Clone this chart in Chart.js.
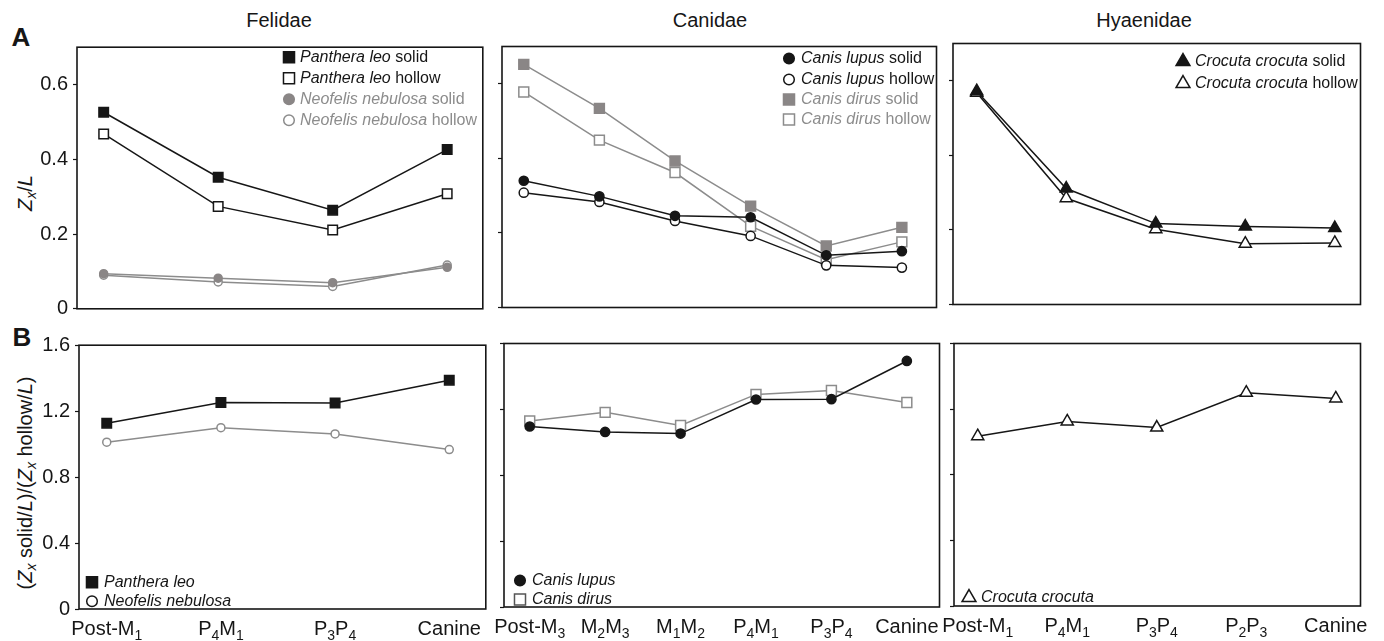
<!DOCTYPE html>
<html>
<head>
<meta charset="utf-8">
<script src="https://cdn.jsdelivr.net/npm/chart.js@4.4.0/dist/chart.umd.min.js"></script>
<style>
  body { margin: 0; background: #fff; }
  #fig { position: relative; width: 1384px; height: 641px; overflow: hidden;
         font-family: "Liberation Sans", Arial, Helvetica, sans-serif; color: #161616; }
  #fig canvas { position: absolute; }
  .lbl { position: absolute; white-space: nowrap; font-size: 20px; line-height: 1;
         transform: translate(-50%, -50%); }
  .letter { font-weight: bold; font-size: 26px; }
  .ytitle { transform: translate(-50%, -50%) rotate(-90deg); }
  sub { font-size: 0.7em; vertical-align: -0.3em; line-height: 0; }
</style>
</head>
<body>
<div id="fig">
  <div class="lbl letter" style="left:21px; top:37px;">A</div>
  <div class="lbl letter" style="left:22px; top:337px;">B</div>
  <div class="lbl" style="left:279px; top:20px;">Felidae</div>
  <div class="lbl" style="left:710px; top:20px;">Canidae</div>
  <div class="lbl" style="left:1144px; top:20px;">Hyaenidae</div>
  <div class="lbl ytitle" style="left:25px; top:193px;"><i>Z</i><sub><i>x</i></sub>/<i>L</i></div>
  <div class="lbl ytitle" style="left:25px; top:483px;">(<i>Z</i><sub><i>x</i></sub> solid/<i>L</i>)/(<i>Z</i><sub><i>x</i></sub> hollow/<i>L</i>)</div>
</div>
<script>
// tooth position categories (underscore = subscript digit)
const felidLabels = ['Post-M_1', 'P_4M_1', 'P_3P_4', 'Canine'];
const canidLabels = ['Post-M_3', 'M_2M_3', 'M_1M_2', 'P_4M_1', 'P_3P_4', 'Canine'];
const hyaenidLabels = ['Post-M_1', 'P_4M_1', 'P_3P_4', 'P_2P_3', 'Canine'];

const zTicks = [0, 0.2, 0.4, 0.6];
const ratioTicks = [0, 0.4, 0.8, 1.2, 1.6];

// A: Zx/L
const pantheraSolid = [0.526, 0.352, 0.264, 0.426];
const pantheraHollow = [0.468, 0.274, 0.211, 0.308];
const neofelisSolid = [0.094, 0.082, 0.070, 0.111];
const neofelisHollow = [0.090, 0.072, 0.060, 0.117];
const lupusSolid = [0.340, 0.298, 0.246, 0.242, 0.140, 0.151];
const lupusHollow = [0.308, 0.283, 0.232, 0.192, 0.113, 0.107];
const dirusSolid = [0.652, 0.534, 0.393, 0.272, 0.165, 0.215];
const dirusHollow = [0.578, 0.449, 0.362, 0.218, 0.128, 0.176];
const crocutaSolid = [0.572, 0.311, 0.217, 0.209, 0.205];
const crocutaHollow = [0.568, 0.285, 0.202, 0.163, 0.165];

// B: solid / hollow ratio
const pantheraRatio = [1.127, 1.253, 1.249, 1.388];
const neofelisRatio = [1.012, 1.100, 1.062, 0.967];
const lupusRatio = [1.096, 1.063, 1.053, 1.260, 1.262, 1.494];
const dirusRatio = [1.130, 1.182, 1.102, 1.291, 1.315, 1.242];
const crocutaRatio = [1.035, 1.125, 1.088, 1.300, 1.265];

const FONT = '"Liberation Sans", Arial, Helvetica, sans-serif';
const INK = '#161616';
const GREY = '#8c8c8c';
const GREY_FILL = '#8a8686';
const PAD_L = 62, PAD_T = 4, PAD_R = 4;

// marker looks
const blackSquare = { borderColor: INK, pointStyle: 'rect', pointRadius: 6.7, pointBackgroundColor: INK, pointBorderColor: INK, legendRadius: 7.8, textColor: INK };
const whiteSquare = { borderColor: INK, pointStyle: 'rect', pointRadius: 6.7, pointBackgroundColor: '#fff', pointBorderColor: INK, legendRadius: 7.8, textColor: INK };
const greySquare = { borderColor: GREY, pointStyle: 'rect', pointRadius: 7, pointBackgroundColor: GREY_FILL, pointBorderColor: GREY_FILL, legendRadius: 7.8, textColor: GREY };
const greyOpenSquare = { borderColor: GREY, pointStyle: 'rect', pointRadius: 7, pointBackgroundColor: '#fff', pointBorderColor: GREY, legendRadius: 7.8, textColor: GREY };
const blackDot = { borderColor: INK, pointStyle: 'circle', pointRadius: 4.6, pointBackgroundColor: INK, pointBorderColor: INK, legendRadius: 5.3, textColor: INK };
const whiteDot = { borderColor: INK, pointStyle: 'circle', pointRadius: 4.6, pointBackgroundColor: '#fff', pointBorderColor: INK, legendRadius: 5.3, textColor: INK };
const greyDot = { borderColor: GREY, pointStyle: 'circle', pointRadius: 4, pointBackgroundColor: GREY_FILL, pointBorderColor: GREY_FILL, legendRadius: 5.3, textColor: GREY };
const greyOpenDot = { borderColor: GREY, pointStyle: 'circle', pointRadius: 4, pointBackgroundColor: '#fff', pointBorderColor: GREY, legendRadius: 5.3, textColor: GREY };
const blackTri = { borderColor: INK, pointStyle: 'triangle', pointRadius: 7, pointBackgroundColor: INK, pointBorderColor: INK, legendRadius: 8, textColor: INK };
const whiteTri = { borderColor: INK, pointStyle: 'triangle', pointRadius: 7, pointBackgroundColor: '#fff', pointBorderColor: INK, legendRadius: 8, textColor: INK };

function series(values, species, suffix, look, extra) {
  return Object.assign({
    data: values.map((v, i) => ({ x: i, y: v })),
    species: species, suffix: suffix,
    borderWidth: 1.5, pointBorderWidth: 1.5, tension: 0, clip: false
  }, look, extra || {});
}

const framePlugin = {
  id: 'frame',
  afterDraw(chart) {
    const a = chart.chartArea, ctx = chart.ctx;
    ctx.save();
    ctx.strokeStyle = INK;
    ctx.lineWidth = 1.6;
    ctx.strokeRect(a.left, a.top, a.right - a.left, a.bottom - a.top);
    ctx.restore();
  }
};

function legendPlugin(spec) {
  return {
    id: 'richLegend',
    afterDraw(chart) {
      const { ctx, chartArea } = chart;
      ctx.save();
      chart.data.datasets.forEach((ds, i) => {
        const x = chartArea.left + spec.x;
        const y = chartArea.top + spec.rows[i];
        ctx.fillStyle = ds.legendFill || ds.pointBackgroundColor;
        ctx.strokeStyle = ds.legendStroke || ds.pointBorderColor;
        ctx.lineWidth = 1.5;
        Chart.helpers.drawPoint(ctx, { pointStyle: ds.pointStyle, radius: ds.legendRadius, rotation: 0, borderWidth: 1.5 }, x, y);
        ctx.fillStyle = ds.legendText || ds.textColor;
        ctx.textBaseline = 'middle';
        ctx.font = 'italic 16px ' + FONT;
        let tx = x + spec.dx;
        ctx.fillText(ds.species, tx, y);
        tx += ctx.measureText(ds.species).width;
        if (ds.suffix) {
          ctx.font = '16px ' + FONT;
          ctx.fillText(' ' + ds.suffix, tx, y);
        }
      });
      ctx.restore();
    }
  };
}

function tickLabelPlugin(cats) {
  return {
    id: 'subTicks',
    afterDraw(chart) {
      const { ctx, chartArea, scales } = chart;
      ctx.save();
      ctx.fillStyle = INK;
      ctx.textBaseline = 'alphabetic';
      cats.forEach((lab, i) => {
        const parts = lab.split(/_(\d)/);
        let w = 0;
        parts.forEach((p, k) => { ctx.font = (k % 2 ? '14px ' : '20px ') + FONT; w += ctx.measureText(p).width; });
        let x = scales.x.getPixelForValue(i) - w / 2;
        const y = chartArea.bottom + 26;
        parts.forEach((p, k) => {
          ctx.font = (k % 2 ? '14px ' : '20px ') + FONT;
          ctx.fillText(p, x, k % 2 ? y + 5 : y);
          x += ctx.measureText(p).width;
        });
      });
      ctx.restore();
    }
  };
}

function makePanel(p) {
  const [L, T, R, B] = p.box;
  const padB = p.bottomRow ? 641 - B : 6;
  const canvas = document.createElement('canvas');
  canvas.width = (R - L) + PAD_L + PAD_R;
  canvas.height = (B - T) + PAD_T + padB;
  canvas.style.left = (L - PAD_L) + 'px';
  canvas.style.top = (T - PAD_T) + 'px';
  document.getElementById('fig').appendChild(canvas);

  const plugins = [framePlugin, legendPlugin(p.legend)];
  if (p.bottomRow) plugins.push(tickLabelPlugin(p.cats));

  new Chart(canvas, {
    type: 'line',
    data: { datasets: p.datasets },
    plugins: plugins,
    options: {
      responsive: false,
      animation: false,
      layout: { padding: { top: PAD_T, right: PAD_R, left: 0, bottom: 0 } },
      plugins: { legend: { display: false }, tooltip: { enabled: false } },
      scales: {
        x: {
          type: 'linear', min: p.xr[0], max: p.xr[1],
          grid: { display: false }, border: { display: false },
          ticks: { display: false },
          afterFit: (s) => { s.height = padB; s.paddingLeft = 0; s.paddingRight = 0; }
        },
        y: {
          min: 0, max: p.yMax,
          afterBuildTicks: (s) => { s.ticks = p.yTicks.map(v => ({ value: v })); },
          afterFit: (s) => { s.width = PAD_L; s.paddingTop = 0; s.paddingBottom = 0; },
          grid: { drawOnChartArea: false, drawTicks: true, tickLength: 4, tickColor: INK, tickWidth: 1.2 },
          border: { display: false },
          ticks: {
            padding: 5, color: INK, font: { size: 20, family: FONT },
            callback: (v) => p.yLabels ? String(v) : ''
          }
        }
      }
    }
  });
}

makePanel({
  box: [77, 43, 487, 311], xr: [-0.233, 3.311], yMax: 0.7, yTicks: zTicks, yLabels: true,
  legend: { x: 212, dx: 11, rows: [10, 31, 52, 73] },
  datasets: [
    series(pantheraSolid, 'Panthera leo', 'solid', blackSquare),
    series(pantheraHollow, 'Panthera leo', 'hollow', whiteSquare),
    series(neofelisSolid, 'Neofelis nebulosa', 'solid', greyDot),
    series(neofelisHollow, 'Neofelis nebulosa', 'hollow', greyOpenDot)
  ]
});
makePanel({
  box: [502, 42, 941, 310], xr: [-0.288, 5.458], yMax: 0.7, yTicks: zTicks, yLabels: false,
  legend: { x: 287, dx: 12, rows: [12, 33, 53, 73] },
  datasets: [
    series(lupusSolid, 'Canis lupus', 'solid', blackDot),
    series(lupusHollow, 'Canis lupus', 'hollow', whiteDot),
    series(dirusSolid, 'Canis dirus', 'solid', greySquare),
    series(dirusHollow, 'Canis dirus', 'hollow', greyOpenSquare)
  ]
});
makePanel({
  box: [953, 39, 1365, 307], xr: [-0.265, 4.287], yMax: 0.7, yTicks: zTicks, yLabels: false,
  legend: { x: 230, dx: 12, rows: [18, 40] },
  datasets: [
    series(crocutaSolid, 'Crocuta crocuta', 'solid', blackTri),
    series(crocutaHollow, 'Crocuta crocuta', 'hollow', whiteTri)
  ]
});
makePanel({
  box: [79, 341, 490, 609], xr: [-0.243, 3.32], yMax: 1.6, yTicks: ratioTicks, yLabels: true,
  bottomRow: true, cats: felidLabels,
  legend: { x: 13, dx: 12, rows: [237, 256] },
  datasets: [
    series(pantheraRatio, 'Panthera leo', '', blackSquare),
    series(neofelisRatio, 'Neofelis nebulosa', '', greyOpenDot, { legendStroke: INK, legendText: INK })
  ]
});
makePanel({
  box: [504, 339, 944, 607], xr: [-0.341, 5.433], yMax: 1.6, yTicks: ratioTicks, yLabels: false,
  bottomRow: true, cats: canidLabels,
  legend: { x: 16, dx: 12, rows: [237, 256] },
  datasets: [
    series(lupusRatio, 'Canis lupus', '', blackDot),
    series(dirusRatio, 'Canis dirus', '', greyOpenSquare, { legendStroke: '#555', legendText: INK })
  ]
});
makePanel({
  box: [954, 339, 1365, 606], xr: [-0.265, 4.276], yMax: 1.6, yTicks: ratioTicks, yLabels: false,
  bottomRow: true, cats: hyaenidLabels,
  legend: { x: 15, dx: 12, rows: [254] },
  datasets: [
    series(crocutaRatio, 'Crocuta crocuta', '', whiteTri)
  ]
});
</script>
</body>
</html>
